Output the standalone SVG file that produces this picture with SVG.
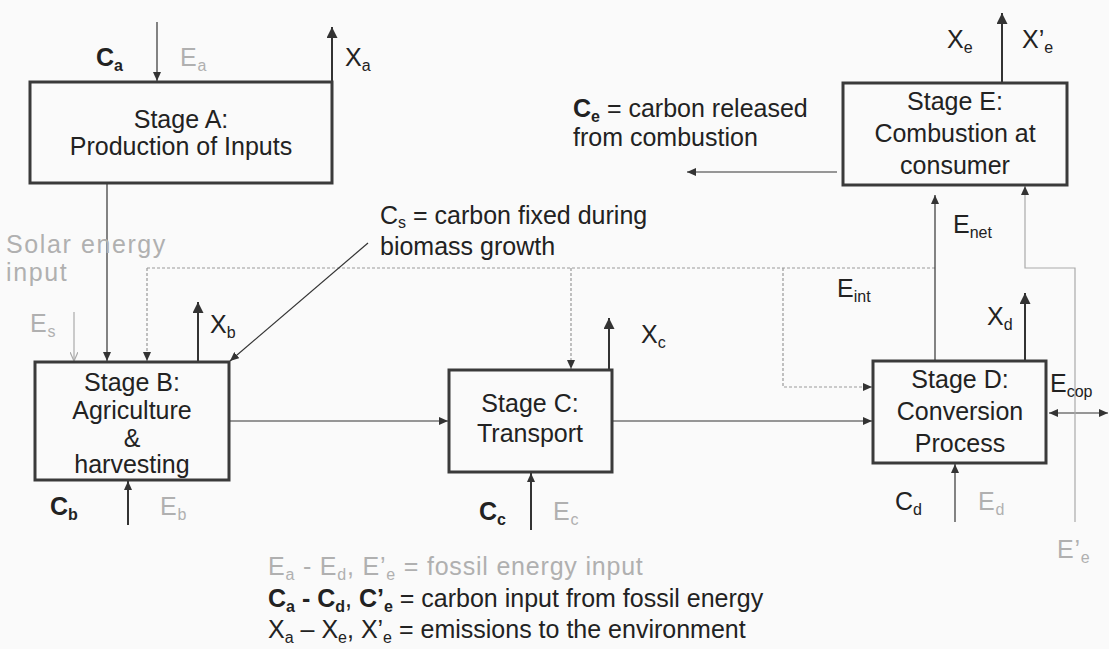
<svg xmlns="http://www.w3.org/2000/svg" width="1109" height="649" viewBox="0 0 1109 649">
<defs>
<style>
text{font-family:"Liberation Sans",Arial,sans-serif;font-size:25px;fill:#222}
.st{text-anchor:middle}
.g{fill:#b0b0b0;letter-spacing:0.8px}
.sol{letter-spacing:1.6px}
.b{font-weight:bold}
.sub{font-size:16px}
.box{fill:none;stroke:#3a3a3a;stroke-width:3}
.ln{fill:none;stroke:#333;stroke-width:1.2}
.em{fill:none;stroke:#333;stroke-width:2}
.gl{fill:none;stroke:#aaa;stroke-width:1.2}
.dt{fill:none;stroke:#999;stroke-width:1.2;stroke-dasharray:3 2}
</style>
<marker id="ah" markerUnits="userSpaceOnUse" markerWidth="9" markerHeight="8" refX="9" refY="4" orient="auto-start-reverse"><path d="M0,0 L9,4 L0,8 z" fill="#333"/></marker>
<marker id="ahb" markerUnits="userSpaceOnUse" markerWidth="11" markerHeight="11" refX="11" refY="5.5" orient="auto"><path d="M0,0 L11,5.5 L0,11 z" fill="#333"/></marker>
<marker id="ahg" markerUnits="userSpaceOnUse" markerWidth="9" markerHeight="8" refX="9" refY="4" orient="auto"><path d="M0,0 L9,4 L0,8" fill="none" stroke="#aaa" stroke-width="1.2"/></marker>
</defs>
<rect width="1109" height="649" fill="#fafafa"/>

<g id="connectors">
<line class="ln" x1="107" y1="183" x2="107" y2="361" marker-end="url(#ah)"/>
<line class="ln" x1="157" y1="22" x2="157" y2="81" marker-end="url(#ah)"/>
<line class="em" x1="332" y1="82" x2="332" y2="27" marker-end="url(#ahb)"/>
<line class="gl" x1="74" y1="312" x2="74" y2="361" marker-end="url(#ahg)"/>
<polyline class="dt" points="935,268 147,268"/>
<line class="dt" x1="147" y1="268" x2="147" y2="361" marker-end="url(#ah)"/>
<line class="dt" x1="571" y1="268" x2="571" y2="369" marker-end="url(#ah)"/>
<polyline class="dt" points="783,268 783,387 872,387" marker-end="url(#ah)"/>
<line class="ln" x1="368" y1="243" x2="230" y2="361" marker-end="url(#ah)"/>
<line class="em" x1="198" y1="362" x2="198" y2="302" marker-end="url(#ahb)"/>
<line class="ln" x1="229" y1="421" x2="448" y2="421" marker-end="url(#ah)"/>
<line class="ln" x1="612" y1="421" x2="872" y2="421" marker-end="url(#ah)"/>
<line class="em" x1="609" y1="370" x2="609" y2="318" marker-end="url(#ahb)"/>
<line class="em" x1="531" y1="530" x2="531" y2="473" marker-end="url(#ah)"/>
<line class="em" x1="1025" y1="361" x2="1025" y2="293" marker-end="url(#ahb)"/>
<line class="ln" x1="935" y1="361" x2="935" y2="195" marker-end="url(#ah)"/>
<line class="ln" x1="1049" y1="413" x2="1108" y2="413" marker-start="url(#ah)" marker-end="url(#ah)"/>
<line class="ln" x1="955" y1="522" x2="955" y2="464" marker-end="url(#ah)"/>
<polyline class="gl" points="1075,522 1075,268 1025,268 1025,186" marker-end="url(#ah)"/>
<line class="ln" x1="837" y1="172" x2="687" y2="172" marker-end="url(#ah)"/>
<line class="em" x1="1002" y1="83" x2="1002" y2="13" marker-end="url(#ahb)"/>
<line class="em" x1="128" y1="525" x2="128" y2="481" marker-end="url(#ah)"/>
</g>

<g id="stageA">
<rect class="box" x="30" y="82" width="302" height="101"/>
<text class="st" x="181" y="128">Stage A:</text>
<text class="st" x="181" y="155">Production of Inputs</text>
</g>

<g id="stageB">
<rect class="box" x="35" y="362" width="194" height="118"/>
<text class="st" x="132" y="391">Stage B:</text>
<text class="st" x="132" y="419">Agriculture</text>
<text class="st" x="132" y="447">&amp;</text>
<text class="st" x="132" y="473">harvesting</text>
</g>

<g id="stageC">
<rect class="box" x="449" y="370" width="163" height="102"/>
<text class="st" x="530" y="412">Stage C:</text>
<text class="st" x="530" y="442">Transport</text>
</g>

<g id="stageD">
<rect class="box" x="873" y="361" width="173" height="102"/>
<text class="st" x="960" y="388">Stage D:</text>
<text class="st" x="960" y="420">Conversion</text>
<text class="st" x="960" y="452">Process</text>
</g>

<g id="stageE">
<rect class="box" x="843" y="83" width="224" height="102"/>
<text class="st" x="955" y="110">Stage E:</text>
<text class="st" x="955" y="142">Combustion at</text>
<text class="st" x="955" y="174">consumer</text>
</g>

<g id="labels">
<text x="96" y="66" class="b">C<tspan class="sub" dy="5">a</tspan></text>
<text x="180" y="66" class="g">E<tspan class="sub" dy="5">a</tspan></text>
<text x="345" y="66">X<tspan class="sub" dy="5">a</tspan></text>
<text x="6" y="253" class="g sol">Solar energy</text>
<text x="6" y="281" class="g sol">input</text>
<text x="30" y="332" class="g">E<tspan class="sub" dy="5">s</tspan></text>
<text x="210" y="333">X<tspan class="sub" dy="5">b</tspan></text>
<text x="380" y="224">C<tspan class="sub" dy="4">s</tspan><tspan dy="-4"> = carbon fixed during</tspan></text>
<text x="380" y="255">biomass growth</text>
<text x="573" y="117"><tspan class="b">C</tspan><tspan class="sub b" dy="5">e</tspan><tspan dy="-5"> = carbon released</tspan></text>
<text x="573" y="146">from combustion</text>
<text x="947" y="48">X<tspan class="sub" dy="5">e</tspan></text>
<text x="1022" y="48">X’<tspan class="sub" dy="5">e</tspan></text>
<text x="953" y="233">E<tspan class="sub" dy="5">net</tspan></text>
<text x="837" y="297">E<tspan class="sub" dy="5">int</tspan></text>
<text x="641" y="343">X<tspan class="sub" dy="5">c</tspan></text>
<text x="987" y="325">X<tspan class="sub" dy="5">d</tspan></text>
<text x="1050" y="392">E<tspan class="sub" dy="5">cop</tspan></text>
<text x="479" y="520" class="b">C<tspan class="sub" dy="5">c</tspan></text>
<text x="553" y="520" class="g">E<tspan class="sub" dy="5">c</tspan></text>
<text x="895" y="510">C<tspan class="sub" dy="5">d</tspan></text>
<text x="978" y="510" class="g">E<tspan class="sub" dy="5">d</tspan></text>
<text x="1057" y="558" class="g">E’<tspan class="sub" dy="5">e</tspan></text>
<text x="50" y="515" class="b">C<tspan class="sub" dy="5">b</tspan></text>
<text x="160" y="515" class="g">E<tspan class="sub" dy="5">b</tspan></text>
</g>

<g id="legend">
<text x="268" y="575" class="g">E<tspan class="sub" dy="5">a</tspan><tspan dy="-5"> - E</tspan><tspan class="sub" dy="5">d</tspan><tspan dy="-5">, E’</tspan><tspan class="sub" dy="5">e</tspan><tspan dy="-5"> = fossil energy input</tspan></text>
<text x="268" y="607"><tspan class="b">C</tspan><tspan class="sub b" dy="5">a</tspan><tspan class="b" dy="-5"> - C</tspan><tspan class="sub b" dy="5">d</tspan><tspan dy="-5">, </tspan><tspan class="b">C’</tspan><tspan class="sub b" dy="5">e</tspan><tspan dy="-5"> = carbon input from fossil energy</tspan></text>
<text x="268" y="638">X<tspan class="sub" dy="5">a</tspan><tspan dy="-5"> – X</tspan><tspan class="sub" dy="5">e</tspan><tspan dy="-5">, X’</tspan><tspan class="sub" dy="5">e</tspan><tspan dy="-5"> = emissions to the environment</tspan></text>
</g>
</svg>
